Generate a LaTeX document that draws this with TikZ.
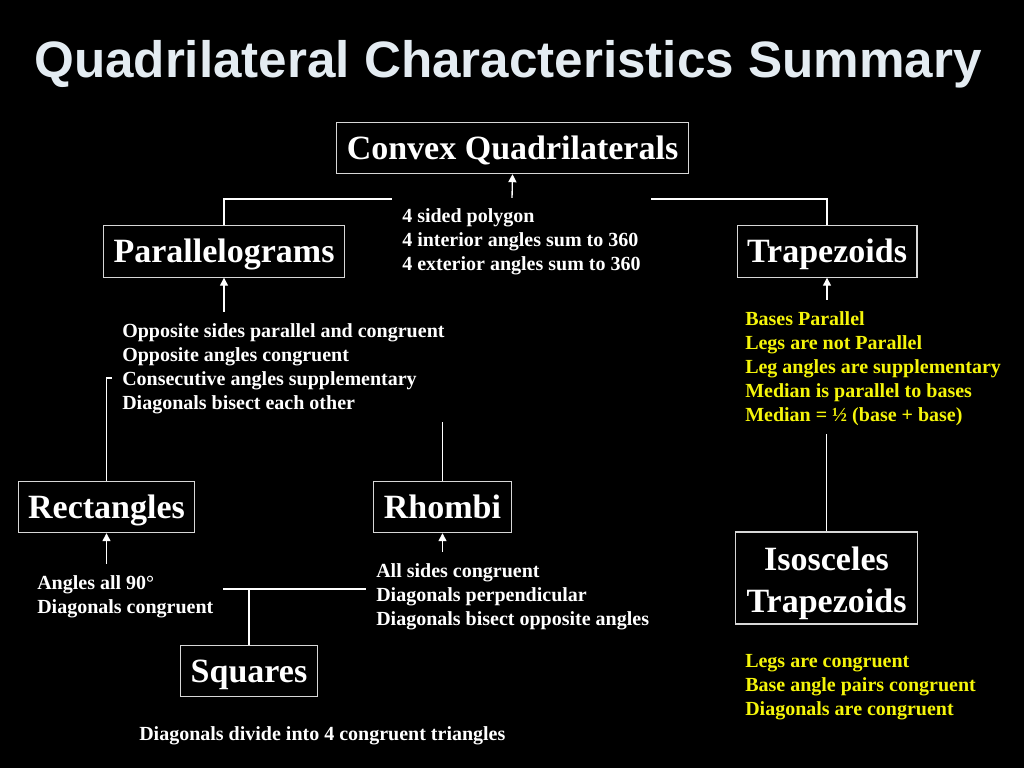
\documentclass[tikz,border=0pt]{standalone}
\usepackage{fontspec}
\setmainfont{Liberation Serif}
\newfontfamily\titlefont{Liberation Sans}
\usetikzlibrary{arrows.meta}
\pgfdeclarelayer{bg}
\pgfdeclarelayer{lines}
\pgfsetlayers{bg,lines,main}
\definecolor{titlecol}{RGB}{228,236,242}
\definecolor{ylw}{RGB}{245,245,10}
\definecolor{boxline}{RGB}{215,215,215}
\newcommand\firststrut{\rule{0pt}{12.8pt}}
\tikzset{
  boxfont/.style={font=\bfseries\fontsize{25.5}{31.5}\selectfont, text=white},
  box/.style={draw=boxline, line width=0.8pt, fill=black, boxfont,
    inner xsep=7.5pt, inner ysep=2pt, minimum height=38.5pt,
    text height=20pt, text depth=2.8pt},
  info/.style={fill=black, text=white, font=\bfseries\fontsize{15}{18}\selectfont,
    align=left, anchor=north west, inner xsep=7.5pt, inner ysep=6pt},
  yinfo/.style={info, text=ylw},
  conn/.style={draw=white, line width=1pt},
  arr/.style={conn, -{Triangle[width=6pt,length=6pt]}}
}
\begin{document}
\begin{tikzpicture}[x=0.75pt,y=-0.75pt]
\begin{pgfonlayer}{bg}
\fill[black] (0,0) rectangle (1024,768);
\end{pgfonlayer}
\useasboundingbox (0,0) rectangle (1024,768);

\node[text=titlecol, font=\titlefont\bfseries\fontsize{38.4}{44}\selectfont, anchor=base] (title) at (508,77) {Quadrilateral Characteristics Summary};

% boxes
\node[box] (conv) at (512.5,148) {Convex Quadrilaterals};
\node[box] (par) at (224,251.5) {Parallelograms};
\node[box] (trap) at (827,251.5) {Trapezoids};
\node[box] (rect) at (106.5,507) {Rectangles};
\node[box] (rhom) at (442.5,507) {Rhombi};
\node[box] (sq) at (249,671) {Squares};
\node[draw=boxline, line width=0.8pt, fill=black, minimum width=137pt, minimum height=69pt,
  label={[boxfont, align=center, yshift=-4pt]center:{Isosceles\\Trapezoids}}] (iso) at (826.5,578) {};

% info texts
\node[info] (ctext) at (392,197.5) {\firststrut 4 sided polygon\\4 interior angles sum to 360\\4 exterior angles sum to 360};
\node[info] (ptext) at (112,312) {\firststrut Opposite sides parallel and congruent\\Opposite angles congruent\\Consecutive angles supplementary\\Diagonals bisect each other};
\node[yinfo] (traptext) at (735,300) {\firststrut Bases Parallel\\Legs are not Parallel\\Leg angles are supplementary\\Median is parallel to bases\\Median = ½ (base + base)};
\node[info] (rtext) at (27,564) {\firststrut Angles all 90°\\Diagonals congruent};
\node[info] (rhtext) at (366,552) {\firststrut All sides congruent\\Diagonals perpendicular\\Diagonals bisect opposite angles};
\node[yinfo] (isotext) at (735,642) {\firststrut Legs are congruent\\Base angle pairs congruent\\Diagonals are congruent};
\node[info] (btext) at (129,715) {\firststrut Diagonals divide into 4 congruent triangles};

% connectors
\coordinate (cj) at (512,199);
\coordinate (rj) at (140,378);
\coordinate (sqj) at (249,589);
\begin{pgfonlayer}{lines}
\draw[conn] (par.north) |- (cj) -| (trap.north);
\draw[arr] (cj) -- (conv.south);
\draw[arr] (ptext.north -| par.south) -- (par.south);
\draw[arr] (traptext.north -| trap.south) -- (trap.south);
\draw[conn] (rect.north) |- (rj);
\draw[conn] (rhom.north) -- (rhom.north |- ptext.center);
\draw[arr] (rtext.north -| rect.south) -- (rect.south);
\draw[arr] (rhtext.north -| rhom.south) -- (rhom.south);
\draw[conn] (sq.north) -- (sqj);
\draw[conn] (rtext.center |- sqj) -- (rhtext.center |- sqj);
\draw[conn] (iso.north) -- (iso.north |- traptext.center);
\end{pgfonlayer}
\end{tikzpicture}
\end{document}
